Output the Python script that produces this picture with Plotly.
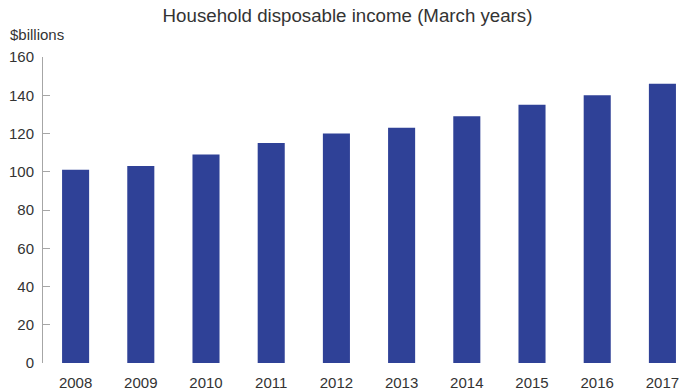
import plotly.graph_objects as go

# Household disposable income, March years ($billions)
years = ["2008", "2009", "2010", "2011", "2012", "2013", "2014", "2015", "2016", "2017"]
income = [101, 103, 109, 115, 120, 123, 129, 135, 140, 146]
y_ticks = [0, 20, 40, 60, 80, 100, 120, 140, 160]

BAR = "#2F4197"
TEXT = "#333333"
AXIS = "#a6a6a6"
FONT = "Liberation Sans, Arial, sans-serif"

fig = go.Figure(
    go.Bar(
        x=years,
        y=income,
        marker=dict(color=BAR, line=dict(width=0)),
        width=0.415,
        hoverinfo="x+y",
    )
)

fig.update_layout(
    width=681,
    height=392,
    margin=dict(l=43, r=0, t=57, b=29),
    paper_bgcolor="white",
    plot_bgcolor="white",
    showlegend=False,
    font=dict(family=FONT, size=15, color=TEXT),
    title=dict(
        text="Household disposable income (March years)",
        font=dict(family=FONT, size=18.7, color=TEXT),
        x=347.5 / 681,
        xref="container",
        xanchor="center",
        y=1 - 15 / 392,
        yref="container",
        yanchor="middle",
    ),
    bargap=0.585,
)

fig.update_xaxes(
    type="category",
    range=[-0.5, 9.285],
    showline=False,
    showgrid=False,
    zeroline=False,
    ticks="",
    tickfont=dict(family=FONT, size=15, color=TEXT),
    ticklabelstandoff=9,
)

fig.update_yaxes(
    range=[0, 160],
    tickvals=y_ticks,
    showline=True,
    linecolor=AXIS,
    linewidth=1,
    ticks="inside",
    ticklen=7,
    tickcolor=AXIS,
    tickwidth=1,
    showgrid=False,
    zeroline=False,
    tickfont=dict(family=FONT, size=15, color=TEXT),
    ticklabelstandoff=5,
)

fig.add_annotation(
    text="$billions",
    xref="paper",
    yref="paper",
    x=-35 / 638,
    y=1 + 23 / 306,
    xanchor="left",
    yanchor="middle",
    showarrow=False,
    font=dict(family=FONT, size=15, color=TEXT),
)

fig.write_html("out.html")
